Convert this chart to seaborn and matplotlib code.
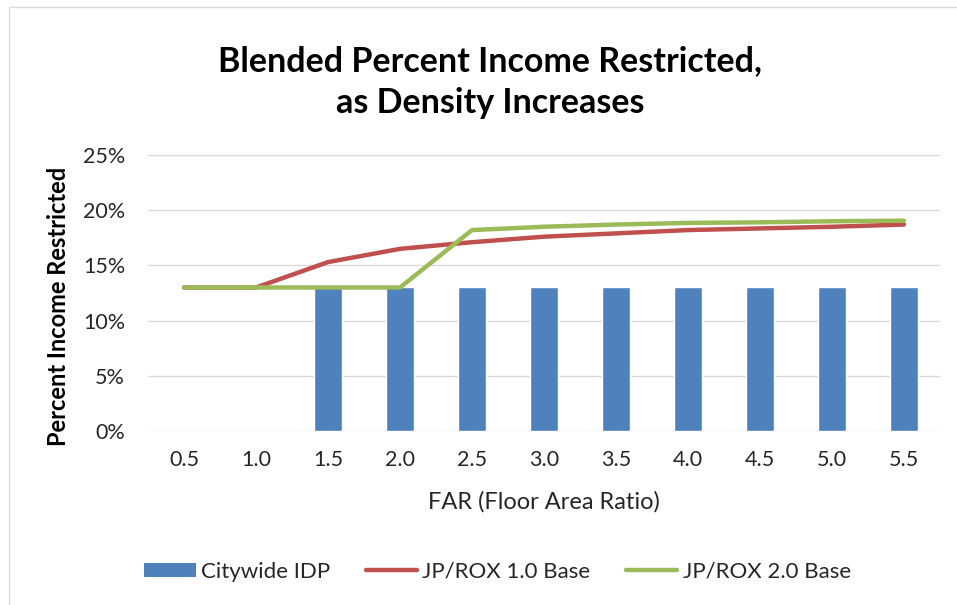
import matplotlib
matplotlib.use("Agg")
import matplotlib.pyplot as plt
import seaborn as sns
import numpy as np
import pandas as pd
from matplotlib.patches import Patch, Rectangle
from matplotlib.lines import Line2D
from matplotlib.ticker import PercentFormatter

far_labels = ["0.5", "1.0", "1.5", "2.0", "2.5", "3.0", "3.5", "4.0", "4.5", "5.0", "5.5"]
citywide_idp = [np.nan, np.nan, 0.13, 0.13, 0.13, 0.13, 0.13, 0.13, 0.13, 0.13, 0.13]
jprox_10 = [0.13, 0.13, 0.153, 0.165, 0.171, 0.176, 0.179, 0.182, 0.1835, 0.185, 0.187]
jprox_20 = [0.13, 0.13, 0.13, 0.13, 0.182, 0.185, 0.187, 0.1885, 0.189, 0.190, 0.1905]
y_ticks = [0.0, 0.05, 0.10, 0.15, 0.20, 0.25]

C_BAR = "#4F81BD"
C_RED = "#C0504D"
C_GREEN = "#9BBB59"

sns.set_theme(style="white")
plt.rcParams["font.family"] = ["Lato", "DejaVu Sans"]

df = pd.DataFrame({"FAR": far_labels, "idp": citywide_idp, "r10": jprox_10, "r20": jprox_20})

fig = plt.figure(figsize=(9.57, 6.05), dpi=100)
ax = fig.add_axes([0.1547, 0.2876, 0.8275, 0.4562])

sns.barplot(data=df, x="FAR", y="idp", color=C_BAR, saturation=1, width=0.39, ax=ax)
sns.lineplot(data=df, x="FAR", y="r10", color=C_RED, linewidth=3.2, ax=ax, sort=False)
sns.lineplot(data=df, x="FAR", y="r20", color=C_GREEN, linewidth=3.2, ax=ax, sort=False)

ax.set_ylim(0, 0.25)
ax.set_xlim(-0.5, len(far_labels) - 0.5)
ax.set_yticks(y_ticks)
ax.yaxis.set_major_formatter(PercentFormatter(1.0, decimals=0))
ax.grid(axis="y", color="#D9D9D9", linewidth=1)
ax.set_axisbelow(True)
for s in ax.spines.values():
    s.set_visible(False)
ax.tick_params(axis="both", length=0, labelsize=15.5, colors="#262626")
ax.tick_params(axis="y", pad=16.5)
ax.tick_params(axis="x", pad=14)
ax.set_xlabel("FAR (Floor Area Ratio)", fontsize=17, color="#262626", labelpad=15)
ax.set_ylabel("Percent Income Restricted", fontsize=17, fontweight="bold", color="black")
ax.yaxis.set_label_coords(-0.0985, 0.452)

fig.text(0.512, 0.864, "Blended Percent Income Restricted,\nas Density Increases",
         ha="center", va="center", fontsize=24.5, fontweight="bold", color="black",
         linespacing=1.38)

handles = [Patch(facecolor=C_BAR, edgecolor="none"),
           Line2D([0], [0], color=C_RED, linewidth=3.2),
           Line2D([0], [0], color=C_GREEN, linewidth=3.2)]
fig.legend(handles, ["Citywide IDP", "JP/ROX 1.0 Base", "JP/ROX 2.0 Base"],
           loc="center", bbox_to_anchor=(0.52, 0.055), ncol=3, frameon=False,
           fontsize=16, handlelength=2.3, handleheight=0.55, columnspacing=1.6,
           handletextpad=0.25, labelcolor="#262626")

fig.patches.append(Rectangle((0.009, -0.1), 1.2, 1.088, transform=fig.transFigure,
                             fill=False, edgecolor="#D9D9D9", linewidth=1))

fig.savefig("out.png", dpi=100)
